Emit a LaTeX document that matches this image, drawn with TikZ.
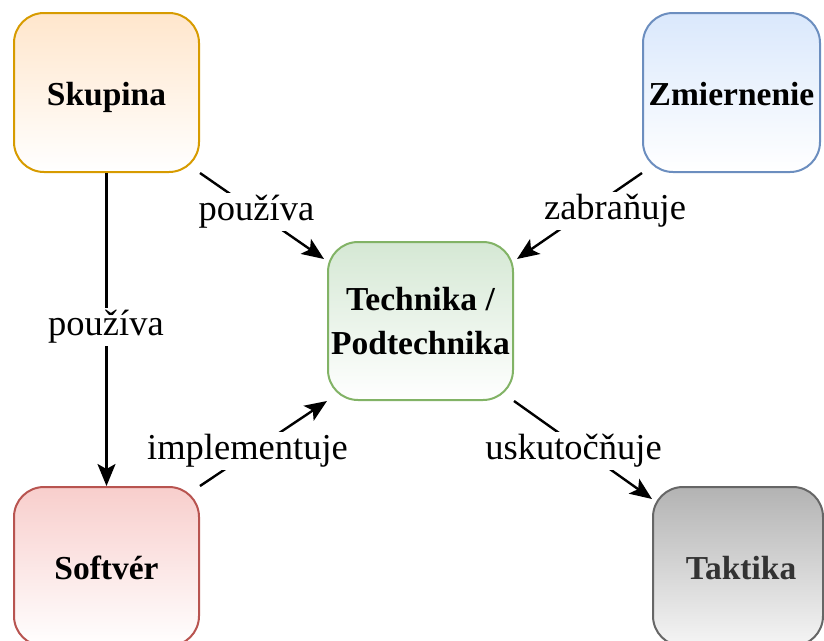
\documentclass[tikz,border=0pt]{standalone}
\usepackage{fontspec}
\setmainfont{Liberation Serif}
\usetikzlibrary{arrows.meta,calc}
\definecolor{orFill}{HTML}{FFE6CC}
\definecolor{orLine}{HTML}{D79B00}
\definecolor{blFill}{HTML}{DAE8FC}
\definecolor{blLine}{HTML}{6C8EBF}
\definecolor{grFill}{HTML}{D5E8D4}
\definecolor{grLine}{HTML}{82B366}
\definecolor{rdFill}{HTML}{F8CECC}
\definecolor{rdLine}{HTML}{B85450}
\definecolor{gyTop}{HTML}{B3B3B3}
\definecolor{gyBot}{HTML}{F5F5F5}
\definecolor{gyLine}{HTML}{666666}
\definecolor{gyText}{HTML}{333333}
\tikzset{
  box/.style={rectangle, rounded corners=30pt, line width=2pt, inner sep=0pt,
    align=center, font=\bfseries\fontsize{33.5}{44}\selectfont},
  oneline/.style={text height=32pt, text depth=7pt},
  conn/.style={line width=2.4pt, -{Stealth[length=22pt,width=18pt,inset=5pt]}},
  lbl/.style={fill=white, inner sep=2pt, font=\fontsize{36.5}{40}\selectfont}
}
\begin{document}
\begin{tikzpicture}[x=1pt,y=-1pt]
\useasboundingbox (0,0) rectangle (824,640);
\clip (0,0) rectangle (824,640);
\node[box, oneline, draw=orLine, top color=orFill, bottom color=white,
  minimum width=185pt, minimum height=159pt] (skup) at (106.5,92.5) {Skupina};
\node[box, oneline, draw=blLine, top color=blFill, bottom color=white,
  minimum width=177pt, minimum height=159pt] (zmier) at (731.5,92.5) {Zmiernenie};
\node[box, draw=grLine, top color=grFill, bottom color=white,
  minimum width=185pt, minimum height=158pt] (tech) at (420.5,321) {Technika /\\Podtechnika};
\node[box, oneline, draw=rdLine, top color=rdFill, bottom color=white,
  minimum width=185pt, minimum height=159pt] (soft) at (106.5,566.5) {Softvér};
\node[box, oneline, draw=gyLine, top color=gyTop, bottom color=gyBot, text=gyText,
  minimum width=170pt, minimum height=159pt] (takt) at (738,566.5) {\hspace*{6pt}Taktika};

\draw[conn] (skup.south) -- (soft.north);
\draw[conn] (skup.south east) -- ($(tech.north west)+(-3,18)$);
\draw[conn] (zmier.south west) -- ($(tech.north east)+(3,18)$);
\draw[conn] (soft.north east) -- (tech.south west);
\draw[conn] (tech.south east) -- ($(takt.north west)+(0,13)$);

\node[lbl] (l1) at (106,327) {používa};
\node[lbl] (l2) at (256.5,212) {používa};
\node[lbl] (l3) at (615,211) {zabraňuje};
\node[lbl] (l4) at (247.5,451) {implementuje};
\node[lbl] (l5) at (573.5,451) {uskutočňuje};
\end{tikzpicture}
\end{document}
